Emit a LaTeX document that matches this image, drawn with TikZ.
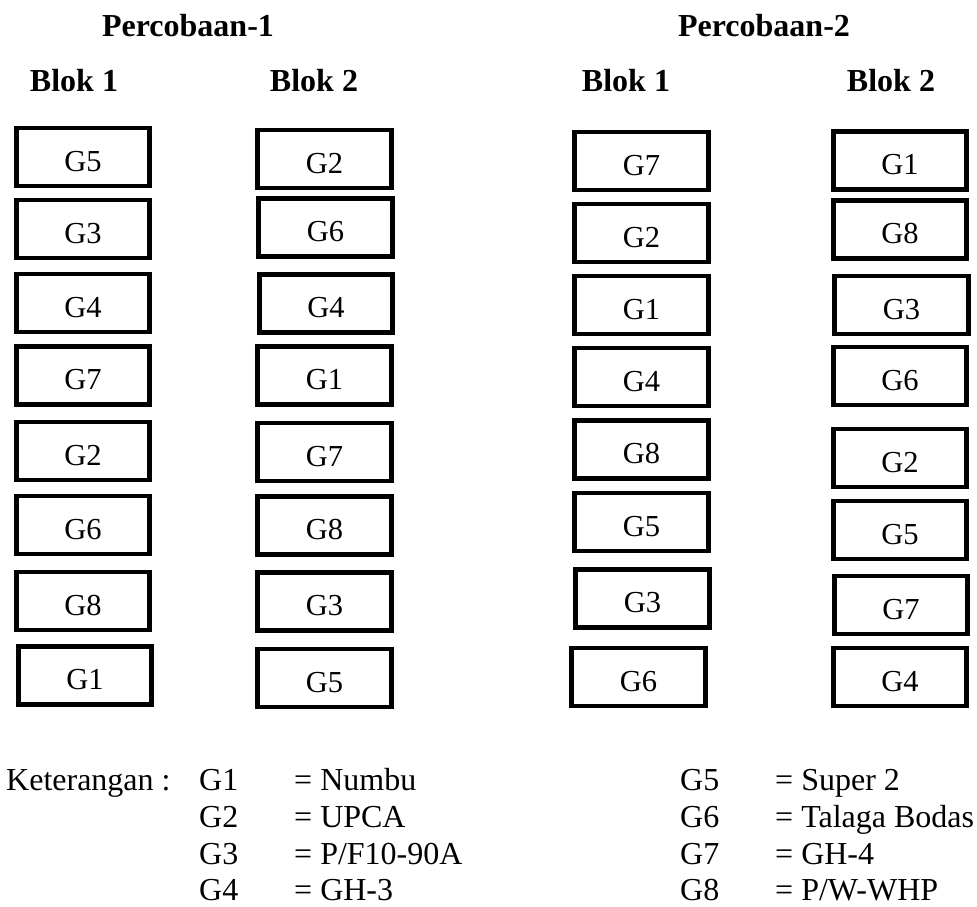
\documentclass[tikz,border=0pt]{standalone}
\usepackage{fontspec}
\setmainfont{Liberation Serif}
\tikzset{
  gbox/.style={draw=black, line width=4.6pt, minimum width=133.5pt, minimum height=58pt,
    inner sep=0pt, text height=28pt, text depth=0pt, font=\fontsize{30.5}{36}\selectfont},
  head/.style={anchor=base, inner sep=0pt, font=\fontsize{32}{38}\selectfont\bfseries},
  legend/.style={anchor=base west, inner sep=0pt, font=\fontsize{32}{38}\selectfont},
}
\begin{document}
\begin{tikzpicture}[x=1pt, y=-1pt]
\useasboundingbox (0,0) rectangle (977,907);

% titles
\node[head] (p1) at (188,37) {Percobaan-1};
\node[head] (p2) at (764,37) {Percobaan-2};
\node[head] (p1b1) at (74,92) {Blok 1};
\node[head] (p1b2) at (314,92) {Blok 2};
\node[head] (p2b1) at (626,92) {Blok 1};
\node[head] (p2b2) at (891,92) {Blok 2};

% Percobaan-1, Blok 1
\node[gbox] (a1) at (83,157) {G5};
\node[gbox] (a2) at (83,229) {G3};
\node[gbox] (a3) at (83,303) {G4};
\node[gbox] (a4) at (83,375.5) {G7};
\node[gbox] (a5) at (83,451) {G2};
\node[gbox] (a6) at (83,525) {G6};
\node[gbox] (a7) at (83,601) {G8};
\node[gbox] (a8) at (85,675.5) {G1};

% Percobaan-1, Blok 2
\node[gbox] (b1) at (324.5,159) {G2};
\node[gbox] (b2) at (325.5,227.5) {G6};
\node[gbox] (b3) at (326,303.5) {G4};
\node[gbox] (b4) at (324.5,375.5) {G1};
\node[gbox] (b5) at (324.5,452) {G7};
\node[gbox] (b6) at (324.5,525.5) {G8};
\node[gbox] (b7) at (324.5,601.5) {G3};
\node[gbox] (b8) at (324.5,678) {G5};

% Percobaan-2, Blok 1
\node[gbox] (c1) at (641.5,161) {G7};
\node[gbox] (c2) at (641.5,233) {G2};
\node[gbox] (c3) at (641.5,305) {G1};
\node[gbox] (c4) at (641.5,377) {G4};
\node[gbox] (c5) at (641.5,449.5) {G8};
\node[gbox] (c6) at (641.5,522) {G5};
\node[gbox] (c7) at (642.5,598.5) {G3};
\node[gbox] (c8) at (638.5,677) {G6};

% Percobaan-2, Blok 2
\node[gbox] (d1) at (900,160.5) {G1};
\node[gbox] (d2) at (900,229.5) {G8};
\node[gbox] (d3) at (901.5,305) {G3};
\node[gbox] (d4) at (900,376) {G6};
\node[gbox] (d5) at (900,458) {G2};
\node[gbox] (d6) at (900,530) {G5};
\node[gbox] (d7) at (901,605) {G7};
\node[gbox] (d8) at (900,677) {G4};

% legend
\node[legend] (ket) at (6,790) {Keterangan :};
\node[legend] (k1) at (199,790) {G1};
\node[legend] (v1) at (294,790) {= Numbu};
\node[legend] (k2) at (199,827) {G2};
\node[legend] (v2) at (294,827) {= UPCA};
\node[legend] (k3) at (199,864) {G3};
\node[legend] (v3) at (294,864) {= P/F10-90A};
\node[legend] (k4) at (199,900) {G4};
\node[legend] (v4) at (294,900) {= GH-3};
\node[legend] (k5) at (680,790) {G5};
\node[legend] (v5) at (775,790) {= Super 2};
\node[legend] (k6) at (680,827) {G6};
\node[legend] (v6) at (775,827) {= Talaga Bodas};
\node[legend] (k7) at (680,864) {G7};
\node[legend] (v7) at (775,864) {= GH-4};
\node[legend] (k8) at (680,900) {G8};
\node[legend] (v8) at (775,900) {= P/W-WHP};
\end{tikzpicture}
\end{document}
